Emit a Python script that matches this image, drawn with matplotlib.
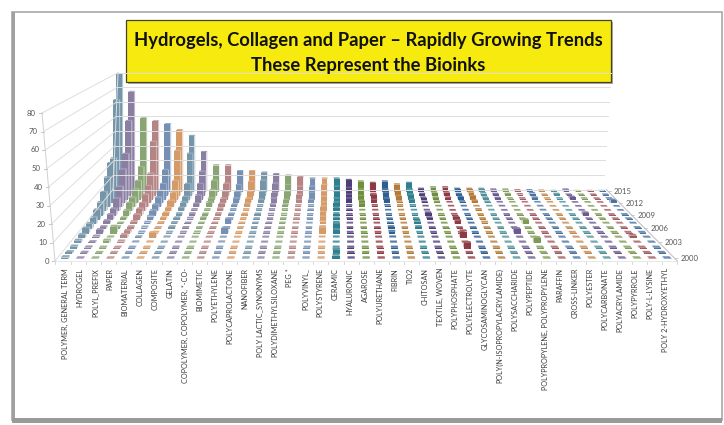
import matplotlib
matplotlib.use("Agg")
import matplotlib.pyplot as plt
from matplotlib.patches import Polygon, Rectangle

years = [2000, 2003, 2006, 2009, 2012, 2015]
year_count = 16
value_ticks = [0, 10, 20, 30, 40, 50, 60, 70, 80]

categories = [
    "POLYMER, GENERAL TERM", "HYDROGEL", "POLYL_PREFIX", "PAPER", "BIOMATERIAL",
    "COLLAGEN", "COMPOSITE", "GELATIN", "COPOLYMER, COPOLYMER, *-CO-", "BIOMIMETIC",
    "POLYETHYLENE", "POLYCAPROLACTONE", "NANOFIBER", "POLY LACTIC_SYNONYMS",
    "POLYDIMETHYLSILOXANE", "PEG *", "POLYVINYL_", "POLYSTYRENE", "CERAMIC",
    "HYALURONIC", "AGAROSE", "POLYURETHANE", "FIBRIN", "TIO2", "CHITOSAN",
    "TEXTILE, WOVEN", "POLYPHOSPHATE", "POLYELECTROLYTE", "GLYCOSAMINOGLYCAN",
    "POLY(N-ISOPROPYLACRYLAMIDE)", "POLYSACCHARIDE", "POLYPEPTIDE",
    "POLYPROPYLENE, POLYPROPYLENE", "PARAFFIN", "CROSS-LINKER", "POLYESTER",
    "POLYCARBONATE", "POLYACRYLAMIDE", "POLYPYRROLE", "POLY-L-LYSINE",
    "POLY 2-HYDROXYETHYL",
]

# values per category, 2000 to 2015
polymer = [1, .8, 1, 1.5, 2, 3, 3, 4, 6, 8, 12, 19, 26, 27, 64, 80]
hydrogel = [.4, .5, .5, .6, 1, 2, 1, 2, 3, 4, 8, 13, 22, 30, 50, 68]
poly_prefix = [.4, .4, .4, 1.5, .5, 4, 1, .5, 1, 3, 5, 6, 9, 12, 19, 50]
paper = [.4, .4, .4, 1, 2, 1.5, 1, 1.5, 3, 4, 5, 8, 11, 17, 36, 48]
biomaterial = [.4, .4, .4, .5, .6, .6, .8, 1, 2, 3, 4, 6, 8, 10, 17, 46]
collagen = [.4, .4, .4, .5, 3, .5, .5, .8, 1, 1.5, 2, 4, 7, 12, 30, 42]
composite = [.4, .4, .4, .4, .5, .5, 1, .8, 1, 1, 2, 3, 4, 10, 28, 38]
gelatin = [.4, .4, .4, .4, .4, .5, .5, .5, .8, 1, 1, 2, 5, 10, 16, 27]
copolymer = [.4, .4, .4, .4, .4, .6, .5, .5, 1, .8, 1, 3, 3, 6, 10, 18]
biomimetic = [.4, .4, .4, .4, .4, .4, .5, .5, .6, 1, 1.5, 2, 3, 5, 8, 18]
polyethylene = [.4, .4, .4, .5, .4, 3, .5, 3, .5, .8, 1, 1.5, 3, 5, 7, 14]
polycaprolactone = [.4, .4, .4, .4, .4, .4, .5, .5, .6, .8, 1, 2, 3, 5, 9, 14]
nanofiber = [.4, .4, .4, .4, .4, .4, .5, .5, .5, .8, 1, 1, 2, 5, 10, 13]
poly_lactic = [.4, .4, .4, .4, .4, .4, .4, .5, .5, .6, 1, 1.5, 3, 4, 8, 12]
polydimethylsiloxane = [.4, .4, .4, .4, .4, .4, .4, .5, .5, .6, 1, 1.5, 2, 5, 7, 11]
peg = [.4, .4, .4, .4, .4, .4, .4, .4, .5, .5, .8, 1, 2, 3, 6, 10]
polyvinyl = [.4, .4, .4, .4, .4, .4, .4, .4, .5, .5, .8, 1, 2, 4, 6, 9]
polystyrene = [.4, .4, .4, .4, .5, 3, 1, 1.5, 1.5, 2, 3, 3, 4, 5, 7, 9]
ceramic = [2, 2, .4, .4, .5, 2, 3, 1, 1, 1, 2, 3, 3, 5, 6, 9]
hyaluronic = [.4, .4, .4, .4, .4, .4, .4, .4, .5, .5, .8, 1, 3, 3, 5, 8]
agarose = [.4, .4, .4, .4, .4, .4, .4, .4, .4, .5, .5, 2, 1.5, 2, 4, 7]
polyurethane = [.4, .4, .4, .4, .4, .4, .4, .4, .5, .5, .5, 1, 2, 3, 1, 6]
fibrin = [.4, .4, .4, .4, .5, 1, 1, .5, .4, .5, .5, 1, 3, 4, 4, 7]
tio2 = [.4, .4, .4, .4, .4, .4, .4, .4, .4, .5, .5, 1, 1, 2, 3, 5]
chitosan = [.4, .4, .4, .4, .4, .4, 1, 1.5, .5, .5, .5, 1, 2, 3, 4, 6]
textile_woven = [.4, .4, .4, .4, .4, .4, .4, .4, 1, 1.5, .5, .5, .8, 1, 1, 2]
polyphosphate = [.4, .4, .4, .4, .4, .4, .4, .4, .4, .5, .5, .5, .8, 1, 2, 3]
polyelectrolyte = [.4, .4, 3, .4, 4, .4, .4, 2, 1.5, .5, .4, .5, .5, 1, 2, 3]
glycosaminoglycan = [.4, .4, .4, .4, .4, .4, .4, .4, .4, .5, .5, .5, 1, 1.5, 1, 2]
poly_nipam = [.4, .4, .4, .4, .4, .4, .4, 1, .5, .4, 1, .5, 1.5, 2, 2, 2]
polysaccharide = [.4, .4, .4, .4, .4, .4, .4, .4, .4, .4, .5, .5, .8, 1, 1.5, 2]
polypeptide = [.4, .4, .4, .4, .4, 2.5, .4, .4, .4, .4, .4, .5, .5, .8, 1, 1.5]
polypropylene = [.4, .4, .4, 3, .4, .4, .4, 2.5, .4, .4, .4, .4, .5, .5, 1, 1.5]
paraffin = [.4, .4, .4, .4, .4, .4, .4, .4, .4, .4, .4, .5, .5, .5, .8, 1]
cross_linker = [.4, .4, .4, .4, .4, .4, .4, .4, .4, .4, .5, .5, .5, 1, 1.5, 1]
polyester = [.4, .4, .4, .4, .4, .4, .4, .4, .4, .4, .4, .4, .5, .5, .5, .8]
polycarbonate = [.4, .4, .4, .4, .4, .4, .4, .4, .4, .4, .4, .4, .5, .5, 1, .5]
polyacrylamide = [.4, .4, .4, .4, .4, .4, .4, .4, .4, 1.5, .4, .4, .4, 1.5, .5, 1.5]
polypyrrole = [.4, .4, .4, .4, .4, .4, .4, .4, .4, .4, .4, .4, .4, .5, .5, .5]
poly_l_lysine = [.4, .4, .4, .4, 1.5, .4, .4, .4, .4, .4, .4, .4, .4, .4, .5, .5]
poly_2_hydroxyethyl = [.4, .4, .4, .4, .4, .4, .4, .4, .4, .4, .4, .4, 2, .5, .5, .5]

series = [
    polymer, hydrogel, poly_prefix, paper, biomaterial, collagen, composite, gelatin,
    copolymer, biomimetic, polyethylene, polycaprolactone, nanofiber, poly_lactic,
    polydimethylsiloxane, peg, polyvinyl, polystyrene, ceramic, hyaluronic, agarose,
    polyurethane, fibrin, tio2, chitosan, textile_woven, polyphosphate, polyelectrolyte,
    glycosaminoglycan, poly_nipam, polysaccharide, polypeptide, polypropylene, paraffin,
    cross_linker, polyester, polycarbonate, polyacrylamide, polypyrrole, poly_l_lysine,
    poly_2_hydroxyethyl,
]

pale = ["#7596aa", "#8a7ea2", "#8aa574", "#b58484", "#7690b4", "#d49a68"]
deep = ["#2f7f8e", "#4f3f78", "#6f8f3f", "#8e3a44", "#2f5f92", "#b47a38"]
soft = ["#4f9098", "#6a5a90", "#7f9a55", "#a05a60", "#4a72a0", "#c08a50"]

VX, VY = 339, -79
FLOOR_Y = 261
PX_PER_VALUE = 1.85
COL_W = 15.17
X_START = 63
DEPTH_K = 0.266
BAR_HALF_W = 0.24
BAR_HALF_D = 0.22


def scale_at(depth):
    return 1 / (1 + DEPTH_K * depth)


def project(x, depth, value):
    s = scale_at(depth)
    return VX + (x - VX) * s, VY + (FLOOR_Y - value * PX_PER_VALUE - VY) * s


def shade(color, amount):
    rgb = matplotlib.colors.to_rgb(color)
    return tuple(c + (1 - c) * amount for c in rgb)


def bar_color(cat):
    group = pale if cat < 18 else deep if cat < 30 else soft
    return group[cat % 6]


def draw_bar(ax, cat, row, value):
    color = bar_color(cat)
    xc = X_START + COL_W * cat
    x0, x1 = xc - COL_W * BAR_HALF_W, xc + COL_W * BAR_HALF_W
    d0 = (row + 0.5 - BAR_HALF_D) / year_count
    d1 = (row + 0.5 + BAR_HALF_D) / year_count
    # side face first, on whichever side faces the centre
    side_x = x1 if xc < VX else x0
    side = [project(side_x, d0, 0), project(side_x, d1, 0),
            project(side_x, d1, value), project(side_x, d0, value)]
    ax.add_patch(Polygon(side, fc=shade(color, 0.45), lw=0))
    top = [project(x0, d0, value), project(x1, d0, value),
           project(x1, d1, value), project(x0, d1, value)]
    ax.add_patch(Polygon(top, fc=shade(color, 0.2), lw=0))
    front = [project(x0, d0, 0), project(x1, d0, 0),
             project(x1, d0, value), project(x0, d0, value)]
    ax.add_patch(Polygon(front, fc=color, lw=0))


def wall_x_left(depth, value):
    # the left wall leans out towards its top
    x_low = 55 + (113 - 55) * depth
    x_high = 42 + (118 - 42) * depth
    return x_low + (x_high - x_low) * value / 80


fig = plt.figure(figsize=(7.24, 4.25), dpi=100)
ax = fig.add_axes([0, 0, 1, 1])
ax.set_xlim(0, 724)
ax.set_ylim(425, 0)
ax.axis("off")
plt.rcParams["font.family"] = ["Lato", "DejaVu Sans"]

# slide frame
ax.add_patch(Rectangle((12, 12), 710, 408, fc="white", ec="#a8a8a8", lw=1.2))
ax.add_patch(Rectangle((12, 12), 3, 408, fc="#a0a0a0", lw=0))
ax.add_patch(Rectangle((12, 418), 710, 5, fc="#9a9a9a", lw=0))

# walls and gridlines
grid_color = "#dedede"
x_back_right = 603
for v in value_ticks:
    yb = project(0, 1, v)[1]
    yf = project(0, 0, v)[1]
    xf = wall_x_left(0, v)
    xb = wall_x_left(1, v)
    ax.plot([xf, xb], [yf, yb], color=grid_color, lw=0.7)
    ax.plot([xb, x_back_right + v * 0.1], [yb, yb], color=grid_color, lw=0.7)
    ax.plot([xf - 3, xf], [yf, yf], color="#bbbbbb", lw=0.6)
    ax.text(xf - 6, yf, str(v), ha="right", va="center", fontsize=5.6, color="#555555")

ax.plot([wall_x_left(0, 0), wall_x_left(0, 80)], [project(0, 0, 0)[1], project(0, 0, 80)[1]],
        color="#d0d0d0", lw=0.7)
ax.plot([wall_x_left(1, 0), wall_x_left(1, 80)], [project(0, 1, 0)[1], project(0, 1, 80)[1]],
        color=grid_color, lw=0.7)

# floor edges
x_left, x_right = X_START - COL_W / 2, X_START + COL_W * 40.5
ax.plot([x_left, x_right], [FLOOR_Y, FLOOR_Y], color="#e4e4e4", lw=0.6)
ax.plot(*zip(project(x_right, 0, 0), project(x_right, 1, 0)), color="#bdbdbd", lw=0.7)
for i in range(len(categories) + 1):
    x = x_left + COL_W * i
    ax.plot([x, x], [FLOOR_Y + 1, FLOOR_Y + 3], color="#c4c4c4", lw=0.5)

# bars, back row first
for row in range(year_count - 1, -1, -1):
    order = sorted(range(len(series)), key=lambda c: -abs(X_START + COL_W * c - VX))
    for cat in order:
        draw_bar(ax, cat, row, series[cat][row])

# category labels
for cat, label in enumerate(categories):
    ax.text(65 + 15.0 * cat, 268, label, rotation=90, ha="center", va="top",
            fontsize=5.25, color="#3c3c3c")

# year labels
for year in years:
    row = year - 2000
    x, y = project(x_right, (row + 0.5) / year_count, 0)
    ax.plot([x, x + 3], [y, y], color="#bdbdbd", lw=0.5)
    ax.text(x + 6, y + 0.5, str(year), ha="left", va="center", fontsize=5.6, color="#555555")

# title box
ax.add_patch(Rectangle((128, 22), 485, 62, fc="#8a8a8a", lw=0, alpha=0.7))
ax.add_patch(Rectangle((126, 20), 485, 62, fc="#f6ea0e", ec="#444422", lw=0.9))
ax.text(368.5, 40, "Hydrogels, Collagen and Paper \u2013 Rapidly Growing Trends",
        ha="center", va="center", fontsize=13.2, fontweight="bold", color="#111111")
ax.text(368.5, 65, "These Represent the Bioinks",
        ha="center", va="center", fontsize=13.2, fontweight="bold", color="#111111")

fig.savefig("out.png", dpi=100)
